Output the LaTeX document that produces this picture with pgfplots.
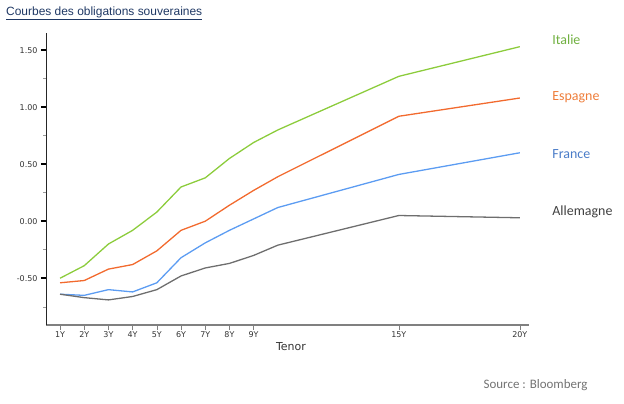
\documentclass[border=0pt]{standalone}
\usepackage{pgfplots}
\pgfplotsset{compat=1.18}
\usepackage{fontspec}
\setmainfont{Liberation Sans}
\newfontfamily\calib{Carlito}
\newfontfamily\tickfont{DejaVu Sans}
\definecolor{cIt}{HTML}{8CCC3C}
\definecolor{cEs}{HTML}{F26A2E}
\definecolor{cFr}{HTML}{5C9CF2}
\definecolor{cAl}{HTML}{6E6E6E}
\definecolor{tIt}{HTML}{70B040}
\definecolor{tEs}{HTML}{EE7D3A}
\definecolor{tFr}{HTML}{4A7CC8}
\definecolor{tAl}{HTML}{404040}
\definecolor{titleblue}{HTML}{1F3864}

\begin{document}
\begin{tikzpicture}[x=1bp,y=1bp]
\path[use as bounding box] (-46,-78) rectangle (578,325);
\begin{axis}[
  at={(0,0)}, anchor=south west,
  scale only axis, width=483bp, height=292bp,
  xmin=0.42, xmax=20.38, ymin=-0.91, ymax=1.65,
  axis x line*=bottom, axis y line*=left,
  x axis line style={gray, line width=1.2pt},
  y axis line style={black!85, line width=0.8pt},
  xtick={1,2,3,4,5,6,7,8,9,15,20},
  xticklabels={1Y,2Y,3Y,4Y,5Y,6Y,7Y,8Y,9Y,15Y,20Y},
  ytick={-0.5,0,0.5,1,1.5},
  yticklabels={-0.50,0.00,0.50,1.00,1.50},
  minor ytick={-0.75,-0.25,0.25,0.75,1.25},
  tick align=outside,
  major tick length=5bp, minor tick length=2.5bp,
  major tick style={black, line width=1.8pt},
  minor tick style={gray!80, line width=0.5pt},
  xtick style={gray, line width=0.6pt},
  tick label style={font=\tickfont\fontsize{8}{9}\selectfont, text=black!80},
  yticklabel style={xshift=0bp},
  xticklabel style={yshift=2bp},
  clip=false,
  every axis plot/.append style={line width=1.3pt, line join=round},
]
\addplot[cIt] coordinates {(1,-0.50)(2,-0.39)(3,-0.20)(4,-0.08)(5,0.08)(6,0.30)(7,0.38)(8,0.55)(9,0.69)(10,0.80)(15,1.27)(20,1.53)};
\addplot[cEs] coordinates {(1,-0.54)(2,-0.52)(3,-0.42)(4,-0.38)(5,-0.26)(6,-0.08)(7,0.00)(8,0.14)(9,0.27)(10,0.39)(15,0.92)(20,1.08)};
\addplot[cFr] coordinates {(1,-0.64)(2,-0.65)(3,-0.60)(4,-0.62)(5,-0.54)(6,-0.32)(7,-0.19)(8,-0.08)(9,0.02)(10,0.12)(15,0.41)(20,0.60)};
\addplot[cAl] coordinates {(1,-0.64)(2,-0.67)(3,-0.69)(4,-0.66)(5,-0.60)(6,-0.48)(7,-0.41)(8,-0.37)(9,-0.30)(10,-0.21)(15,0.05)(20,0.03)};
\node[anchor=west, text=tIt, font=\calib\fontsize{14}{16}\selectfont] at (axis cs:21.2,1.594) {Italie};
\node[anchor=west, text=tEs, font=\calib\fontsize{14}{16}\selectfont] at (axis cs:21.2,1.088) {Espagne};
\node[anchor=west, text=tFr, font=\calib\fontsize{14}{16}\selectfont] at (axis cs:21.2,0.591) {France};
\node[anchor=west, text=tAl, font=\calib\fontsize{14}{16}\selectfont] at (axis cs:21.2,0.085) {Allemagne};
\end{axis}
\node[anchor=west, text=titleblue, font=\fontsize{12}{14}\selectfont, inner sep=0pt] at (-40,312) {\underline{Courbes des obligations souveraines}};
\node[text=black!80, font=\tickfont\fontsize{11}{13}\selectfont] at (245,-22) {Tenor};
\node[anchor=east, text=black!55, font=\calib\fontsize{13}{15}\selectfont] at (545,-60) {Source : Bloomberg};
\end{tikzpicture}
\end{document}
